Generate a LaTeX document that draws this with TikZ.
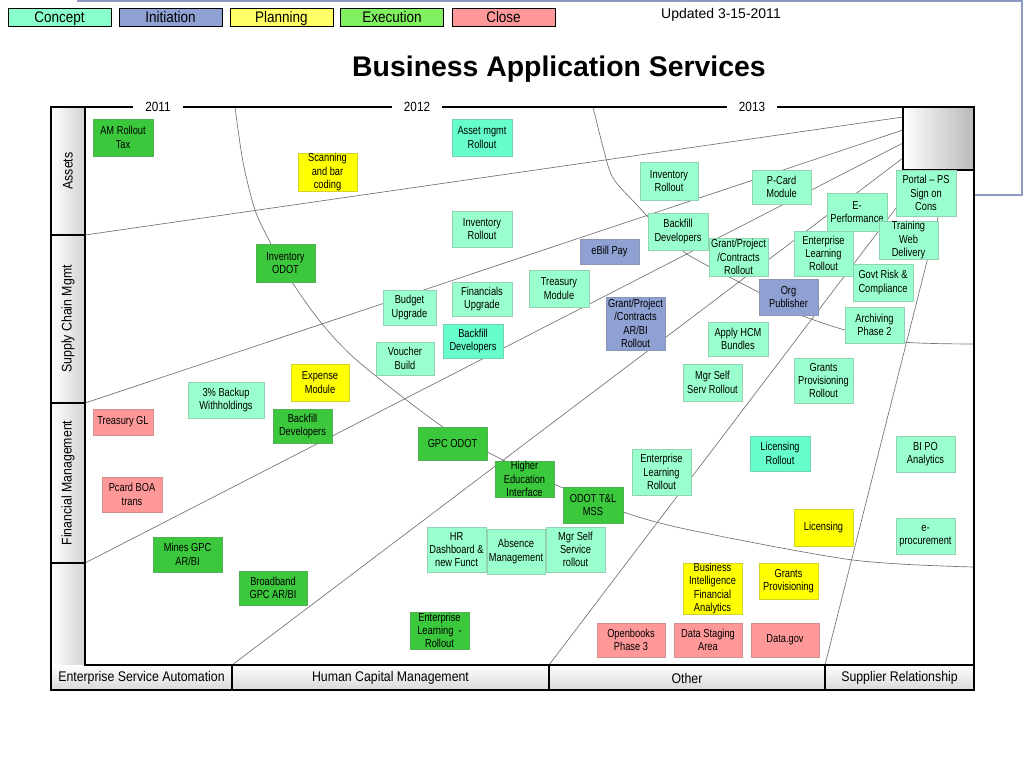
\documentclass[tikz,border=0pt]{standalone}
\usepackage{fontspec}
\setmainfont{Liberation Sans}
\newfontfamily\narrowfont[FakeStretch=0.8]{Liberation Sans}
\newfontfamily\medfont[FakeStretch=0.88]{Liberation Sans}
\definecolor{conceptc}{HTML}{99FFCC}
\definecolor{conceptd}{HTML}{66FFCC}
\definecolor{initc}{HTML}{8FA0D2}
\definecolor{planc}{HTML}{FFFF00}
\definecolor{execc}{HTML}{3CC83C}
\definecolor{closec}{HTML}{FF9999}
\definecolor{legconc}{HTML}{88FFCC}
\definecolor{legplan}{HTML}{FFFF66}
\definecolor{legexec}{HTML}{80F060}
\definecolor{frameblue}{HTML}{8C9AC4}
\begin{document}
\begin{tikzpicture}[x=0.75pt,y=-0.75pt,
  box/.style={fill=#1, draw=#1!65!gray, line width=0.6pt, inner sep=0pt, align=center, font=\narrowfont\fontsize{8.7}{10}\selectfont},
  sz/.style 2 args={minimum width=#1*0.75pt, minimum height=#2*0.75pt},
  legend/.style={fill=#1, draw=black, line width=0.6pt, minimum width=77.25pt, minimum height=13.5pt, inner sep=0pt, text height=8.2pt, text depth=0pt, font=\medfont\fontsize{11.5}{13}\selectfont},
  guide/.style={black!55, line width=0.5pt},
  cell/.style={draw=black, line width=0.8pt},
  lab/.style={font=\medfont\fontsize{10.5}{12}\selectfont},
  year/.style={fill=white, minimum width=37.5pt, inner sep=1pt, font=\medfont\fontsize{10}{12}\selectfont}]
\useasboundingbox (0,0) rectangle (1024,768);
\draw[frameblue, line width=1.5pt] (77,1) -- (1022,1) -- (1022,195) -- (974,195);

\node[legend=legconc] (lconcept) at (59.5,17) {Concept};
\node[legend=initc] (linit) at (170.5,17) {Initiation};
\node[legend=legplan] (lplan) at (281.5,17) {Planning};
\node[legend=legexec] (lexec) at (392,17) {Execution};
\node[legend=closec] (lclose) at (503.5,17) {Close};
\node[font=\fontsize{10.5}{12}\selectfont] (updated) at (721,15) {Updated 3-15-2011};
\node[font=\bfseries\fontsize{21.3}{24}\selectfont] (title) at (559,69) {Business Application Services};

\shade[left color=white, right color=gray!35] (51,107) rectangle (85,235);
\shade[left color=white, right color=gray!35] (51,235) rectangle (85,403);
\shade[left color=white, right color=gray!35] (51,403) rectangle (85,563);
\shade[left color=white, right color=gray!35] (51,563) rectangle (85,665);
\shade[top color=white, bottom color=gray!30] (51,665) rectangle (232,690);
\shade[top color=white, bottom color=gray!30] (232,665) rectangle (549,690);
\shade[top color=white, bottom color=gray!30] (549,665) rectangle (825,690);
\shade[top color=white, bottom color=gray!30] (825,665) rectangle (974,690);
\shade[left color=white, right color=gray!55] (903,107) rectangle (974,170);

\draw[guide] (85,235) -- (903,117);
\draw[guide] (85,403) -- (903,130);
\draw[guide] (85,563) -- (903,143);
\draw[guide] (232,665) -- (903,158);
\draw[guide] (549,665) -- (925,170);
\draw[guide] (825,665) -- (950,170);
\draw[guide] plot[smooth] coordinates {(235,107) (243,162) (255,210) (270,242) (292,282) (323,325) (360,363) (443,427) (503,460) (563,488) (623,512) (690,530) (853,560) (974,567)};
\draw[guide] plot[smooth] coordinates {(593,107) (603,147) (613,178) (637,205) (665,235) (690,256) (760,293) (793,312) (845,330) (903,342) (974,344)};

\draw[cell] (51,107) rectangle (974,690);
\draw[cell] (85,107) -- (85,665) -- (974,665);
\draw[cell] (51,235) -- (85,235);
\draw[cell] (51,403) -- (85,403);
\draw[cell] (51,563) -- (85,563);
\draw[cell] (232,665) -- (232,690);
\draw[cell] (549,665) -- (549,690);
\draw[cell] (825,665) -- (825,690);
\draw[cell] (903,107) -- (903,170) -- (974,170);

\node[year] (y2011) at (158,107) {2011};
\node[year] (y2012) at (417,107) {2012};
\node[year] (y2013) at (752,107) {2013};
\node[lab, rotate=90] (assets) at (68,171) {Assets};
\node[lab, rotate=90] (supply) at (68,319) {Supply Chain Mgmt};
\node[lab, rotate=90] (finance) at (68,483) {Financial Management};
\node[lab] (esa) at (141.5,678) {Enterprise Service Automation};
\node[lab] (hcm) at (390.5,678) {Human Capital Management};
\node[lab] (other) at (687,678) {Other};
\node[lab] (supplier) at (899.5,678) {Supplier Relationship};

\node[box=execc, sz={60}{37}] (amtax) at (123,137.5) {AM Rollout\\Tax};
\node[box=planc, sz={59}{38}] (scanning) at (327.5,172) {Scanning\\and bar\\coding};
\node[box=execc, sz={59}{38}] (invodot) at (285.5,263) {Inventory\\ODOT};
\node[box=conceptd, sz={60}{37}] (assetmgmt) at (482,137.5) {Asset mgmt\\Rollout};
\node[box=conceptc, sz={60}{36}] (invrollA) at (482,229) {Inventory\\Rollout};
\node[box=conceptc, sz={58}{38}] (invrollB) at (669,181) {Inventory\\Rollout};
\node[box=conceptc, sz={60}{37}] (backfillA) at (678,231.5) {Backfill\\Developers};
\node[box=initc, sz={59}{25}] (ebill) at (609.5,251.5) {eBill Pay};
\node[box=conceptc, sz={60}{37}] (treasmod) at (559,288.5) {Treasury\\Module};
\node[box=conceptc, sz={60}{34}] (finupg) at (482,299) {Financials\\Upgrade};
\node[box=conceptc, sz={53}{35}] (budget) at (409.5,307.5) {Budget\\Upgrade};
\node[box=initc, sz={59}{53}] (grantarbi) at (635.5,323.5) {Grant/Project\\/Contracts\\AR/BI\\Rollout};
\node[box=conceptd, sz={60}{34}] (backfillB) at (473,341) {Backfill\\Developers};
\node[box=conceptc, sz={58}{33}] (voucher) at (405,358.5) {Voucher\\Build};
\node[box=planc, sz={58}{37}] (expense) at (320,382.5) {Expense\\Module};
\node[box=conceptc, sz={76}{36}] (backup) at (226,400) {3\% Backup\\Withholdings};
\node[box=execc, sz={59}{34}] (backfillC) at (302.5,426) {Backfill\\Developers};
\node[box=closec, sz={60}{26}] (treasgl) at (123,422) {Treasury GL};
\node[box=closec, sz={60}{35}] (pcardboa) at (132,494.5) {Pcard BOA\\trans};
\node[box=execc, sz={69}{35}] (mines) at (187.5,554.5) {Mines GPC\\AR/BI};
\node[box=execc, sz={68}{34}] (broadband) at (273,588) {Broadband\\GPC AR/BI};
\node[box=execc, sz={69}{33}] (gpcodot) at (452.5,443.5) {GPC ODOT};
\node[box=execc, sz={59}{36}] (higher) at (524.5,479) {Higher\\Education\\Interface};
\node[box=execc, sz={60}{36}] (odottl) at (593,505) {ODOT T\&L\\MSS};
\node[box=conceptc, sz={59}{46}] (entlearnA) at (661.5,472) {Enterprise\\Learning\\Rollout};
\node[box=conceptc, sz={59}{45}] (hrdash) at (456.5,549.5) {HR\\Dashboard \&\\new Funct};
\node[box=conceptc, sz={58}{45}] (absence) at (516,551.5) {Absence\\Management};
\node[box=conceptc, sz={59}{45}] (mgrselfA) at (575.5,549.5) {Mgr Self\\Service\\rollout};
\node[box=execc, sz={59}{37}] (entlearnB) at (439.5,630.5) {Enterprise\\Learning~~-\\Rollout};
\node[box=closec, sz={68}{34}] (openbooks) at (631,640) {Openbooks\\Phase 3};
\node[box=closec, sz={68}{34}] (staging) at (708,640) {Data Staging\\Area};
\node[box=closec, sz={68}{34}] (datagov) at (785,640) {Data.gov};
\node[box=planc, sz={59}{51}] (bifin) at (712.5,588.5) {Business\\Intelligence\\Financial\\Analytics};
\node[box=planc, sz={59}{36}] (grantsprov) at (788.5,581) {Grants\\Provisioning};
\node[box=planc, sz={59}{37}] (licensing) at (823.5,527.5) {Licensing};
\node[box=conceptc, sz={59}{36}] (eproc) at (925.5,536) {e-\\procurement};
\node[box=conceptc, sz={59}{36}] (bipo) at (925.5,454) {BI PO\\Analytics};
\node[box=conceptd, sz={60}{35}] (licroll) at (780,453.5) {Licensing\\Rollout};
\node[box=conceptc, sz={59}{45}] (grantsroll) at (823.5,380.5) {Grants\\Provisioning\\Rollout};
\node[box=conceptc, sz={59}{37}] (mgrselfB) at (712.5,382.5) {Mgr Self\\Serv Rollout};
\node[box=conceptc, sz={60}{34}] (applyhcm) at (738,339) {Apply HCM\\Bundles};
\node[box=initc, sz={59}{36}] (orgpub) at (788.5,297) {Org\\Publisher};
\node[box=conceptc, sz={59}{38}] (grantroll) at (738.5,257) {Grant/Project\\/Contracts\\Rollout};
\node[box=conceptc, sz={59}{34}] (pcardmod) at (781.5,187) {P-Card\\Module};
\node[box=conceptc, sz={59}{45}] (entlearnC) at (823.5,253.5) {Enterprise\\Learning\\Rollout};
\node[box=conceptc, sz={60}{38}] (eperf) at (857,212) {E-\\Performance};
\node[box=conceptc, sz={60}{46}] (portal) at (926,193) {Portal – PS\\Sign on\\Cons};
\node[box=conceptc, sz={59}{38}] (training) at (908.5,240) {Training\\Web\\Delivery};
\node[box=conceptc, sz={60}{37}] (govtrisk) at (883,282.5) {Govt Risk \&\\Compliance};
\node[box=conceptc, sz={59}{36}] (archiving) at (874.5,325) {Archiving\\Phase 2};
\end{tikzpicture}
\end{document}
